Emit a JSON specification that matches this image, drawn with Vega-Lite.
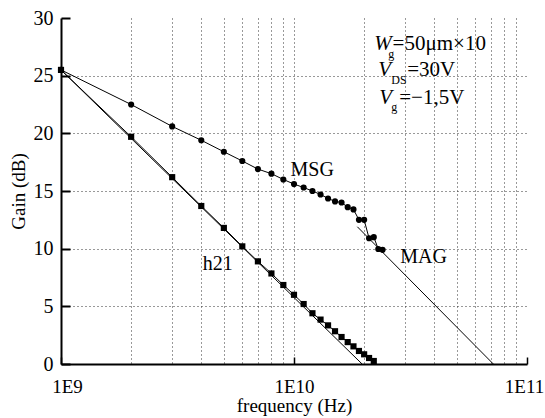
{
  "$schema": "https://vega.github.io/schema/vega-lite/v6.json",
  "width": 466,
  "height": 346,
  "autosize": "none",
  "padding": {"left": 61, "top": 18, "right": 18, "bottom": 54},
  "background": "white",
  "config": {"view": {"stroke": null}, "font": "Liberation Serif"},
  "datasets": {
    "main": [
      {"series": "h21", "freq": 1e9, "gain": 25.5},
      {"series": "h21", "freq": 2e9, "gain": 19.7},
      {"series": "h21", "freq": 3e9, "gain": 16.2},
      {"series": "h21", "freq": 4e9, "gain": 13.7},
      {"series": "h21", "freq": 5e9, "gain": 11.8},
      {"series": "h21", "freq": 6e9, "gain": 10.2},
      {"series": "h21", "freq": 7e9, "gain": 8.9},
      {"series": "h21", "freq": 8e9, "gain": 7.85},
      {"series": "h21", "freq": 9e9, "gain": 6.85},
      {"series": "h21", "freq": 1.0e10, "gain": 6.0},
      {"series": "h21", "freq": 1.1e10, "gain": 5.2},
      {"series": "h21", "freq": 1.2e10, "gain": 4.4},
      {"series": "h21", "freq": 1.3e10, "gain": 3.85},
      {"series": "h21", "freq": 1.4e10, "gain": 3.35},
      {"series": "h21", "freq": 1.5e10, "gain": 2.84},
      {"series": "h21", "freq": 1.6e10, "gain": 2.34},
      {"series": "h21", "freq": 1.7e10, "gain": 1.9},
      {"series": "h21", "freq": 1.8e10, "gain": 1.53},
      {"series": "h21", "freq": 1.9e10, "gain": 1.13},
      {"series": "h21", "freq": 2.0e10, "gain": 0.84},
      {"series": "h21", "freq": 2.1e10, "gain": 0.52},
      {"series": "h21", "freq": 2.2e10, "gain": 0.26},
      {"series": "MSG", "freq": 1e9, "gain": 25.5},
      {"series": "MSG", "freq": 2e9, "gain": 22.5},
      {"series": "MSG", "freq": 3e9, "gain": 20.6},
      {"series": "MSG", "freq": 4e9, "gain": 19.4},
      {"series": "MSG", "freq": 5e9, "gain": 18.4},
      {"series": "MSG", "freq": 6e9, "gain": 17.6},
      {"series": "MSG", "freq": 7e9, "gain": 16.9},
      {"series": "MSG", "freq": 8e9, "gain": 16.5},
      {"series": "MSG", "freq": 9e9, "gain": 16.0},
      {"series": "MSG", "freq": 1.0e10, "gain": 15.6},
      {"series": "MSG", "freq": 1.1e10, "gain": 15.3},
      {"series": "MSG", "freq": 1.2e10, "gain": 15.0},
      {"series": "MSG", "freq": 1.3e10, "gain": 14.7},
      {"series": "MSG", "freq": 1.4e10, "gain": 14.35},
      {"series": "MSG", "freq": 1.5e10, "gain": 14.1},
      {"series": "MSG", "freq": 1.6e10, "gain": 14.0},
      {"series": "MSG", "freq": 1.7e10, "gain": 13.6},
      {"series": "MSG", "freq": 1.8e10, "gain": 13.4},
      {"series": "MSG", "freq": 1.9e10, "gain": 12.5},
      {"series": "MSG", "freq": 2.0e10, "gain": 12.5},
      {"series": "MSG", "freq": 2.1e10, "gain": 10.9},
      {"series": "MSG", "freq": 2.2e10, "gain": 11.0},
      {"series": "MSG", "freq": 2.3e10, "gain": 9.97},
      {"series": "MSG", "freq": 2.4e10, "gain": 9.9}
    ],
    "lines": [
      {"series": "h21fit", "freq": 1e9, "gain": 25.5},
      {"series": "h21fit", "freq": 1.96e10, "gain": 0},
      {"series": "MAG", "freq": 1.87e10, "gain": 11.9},
      {"series": "MAG", "freq": 7.17e10, "gain": 0}
    ],
    "labels": [
      {"text": "MSG", "freq": 9.66e9, "gain": 16.28},
      {"text": "h21", "freq": 4.06e9, "gain": 8.13},
      {"text": "MAG", "freq": 2.86e10, "gain": 8.79}
    ],
    "italic": [
      {"text": "W", "freq": 2.212e10, "gain": 27.21},
      {"text": "V", "freq": 2.30e10, "gain": 24.95},
      {"text": "V", "freq": 2.323e10, "gain": 22.52}
    ],
    "plain": [
      {"text": "=50μm×10", "freq": 2.65e10, "gain": 27.21},
      {"text": "=30V", "freq": 3.06e10, "gain": 24.95},
      {"text": "=−1,5V", "freq": 2.83e10, "gain": 22.52}
    ],
    "subs": [
      {"text": "g", "freq": 2.539e10, "gain": 26.51},
      {"text": "DS", "freq": 2.616e10, "gain": 24.26},
      {"text": "g", "freq": 2.616e10, "gain": 21.92}
    ]
  },
  "encoding": {
    "x": {
      "field": "freq",
      "type": "quantitative",
      "scale": {"type": "log", "domain": [1e9, 1e11], "nice": false},
      "axis": {
        "title": "frequency (Hz)",
        "values": [1e9, 2e9, 3e9, 4e9, 5e9, 6e9, 7e9, 8e9, 9e9, 1e10, 2e10, 3e10, 4e10, 5e10, 6e10, 7e10, 8e10, 9e10, 1e11],
        "labelExpr": "datum.value == 1e9 ? '1E9' : (datum.value == 1e10 ? '1E10' : (datum.value == 1e11 ? '1E11' : ''))",
        "grid": true,
        "gridDash": [1, 3],
        "gridColor": "#333",
        "gridWidth": 1,
        "gridOpacity": {"condition": {"test": "datum.value == 1e9 || datum.value == 1e11", "value": 0}, "value": 1},
        "tickOpacity": {"condition": {"test": "datum.value == 1e9 || datum.value == 1e10 || datum.value == 1e11", "value": 1}, "value": 0},
        "labelOffset": {"condition": [{"test": "datum.value == 1e9", "value": 6}, {"test": "datum.value == 1e11", "value": -3}], "value": 0},
        "tickSize": -7,
        "tickWidth": 1.5,
        "tickColor": "black",
        "domainColor": "black",
        "domainWidth": 2,
        "labelFontSize": 19,
        "labelColor": "black",
        "labelPadding": 20,
        "labelFlush": false,
        "labelOverlap": false,
        "titleFontSize": 19,
        "titleFontWeight": "normal",
        "titleColor": "black",
        "titlePadding": 0
      }
    },
    "y": {
      "field": "gain",
      "type": "quantitative",
      "scale": {"domain": [0, 30], "nice": false},
      "axis": {
        "title": "Gain (dB)",
        "values": [0, 5, 10, 15, 20, 25, 30],
        "grid": true,
        "gridDash": [1, 3],
        "gridColor": "#333",
        "gridWidth": 1,
        "gridOpacity": {"condition": {"test": "datum.value == 0 || datum.value == 30", "value": 0}, "value": 1},
        "tickSize": -9,
        "tickWidth": 2,
        "tickColor": "black",
        "domainColor": "black",
        "domainWidth": 2,
        "labelFontSize": 20,
        "labelColor": "black",
        "labelPadding": 17,
        "labelFlush": false,
        "titleFontSize": 19,
        "titleFontWeight": "normal",
        "titleColor": "black",
        "titlePadding": 5
      }
    }
  },
  "layer": [
    {
      "data": {"name": "lines"},
      "mark": {"type": "line", "color": "black", "strokeWidth": 1},
      "encoding": {"detail": {"field": "series"}}
    },
    {
      "data": {"name": "main"},
      "mark": {"type": "line", "color": "black", "strokeWidth": 1},
      "encoding": {"detail": {"field": "series"}}
    },
    {
      "data": {"name": "main"},
      "mark": {"type": "point", "filled": true, "color": "black", "opacity": 1, "size": 38},
      "encoding": {
        "shape": {"field": "series", "type": "nominal", "scale": {"domain": ["h21", "MSG"], "range": ["square", "circle"]}, "legend": null}
      }
    },
    {
      "data": {"name": "labels"},
      "mark": {"type": "text", "align": "left", "baseline": "alphabetic", "fontSize": 20, "color": "black"},
      "encoding": {"text": {"field": "text"}}
    },
    {
      "data": {"name": "italic"},
      "mark": {"type": "text", "align": "left", "baseline": "alphabetic", "fontSize": 21, "fontStyle": "italic", "color": "black"},
      "encoding": {"text": {"field": "text"}}
    },
    {
      "data": {"name": "plain"},
      "mark": {"type": "text", "align": "left", "baseline": "alphabetic", "fontSize": 21, "color": "black"},
      "encoding": {"text": {"field": "text"}}
    },
    {
      "data": {"name": "subs"},
      "mark": {"type": "text", "align": "left", "baseline": "alphabetic", "fontSize": 12, "color": "black"},
      "encoding": {"text": {"field": "text"}}
    }
  ]
}
